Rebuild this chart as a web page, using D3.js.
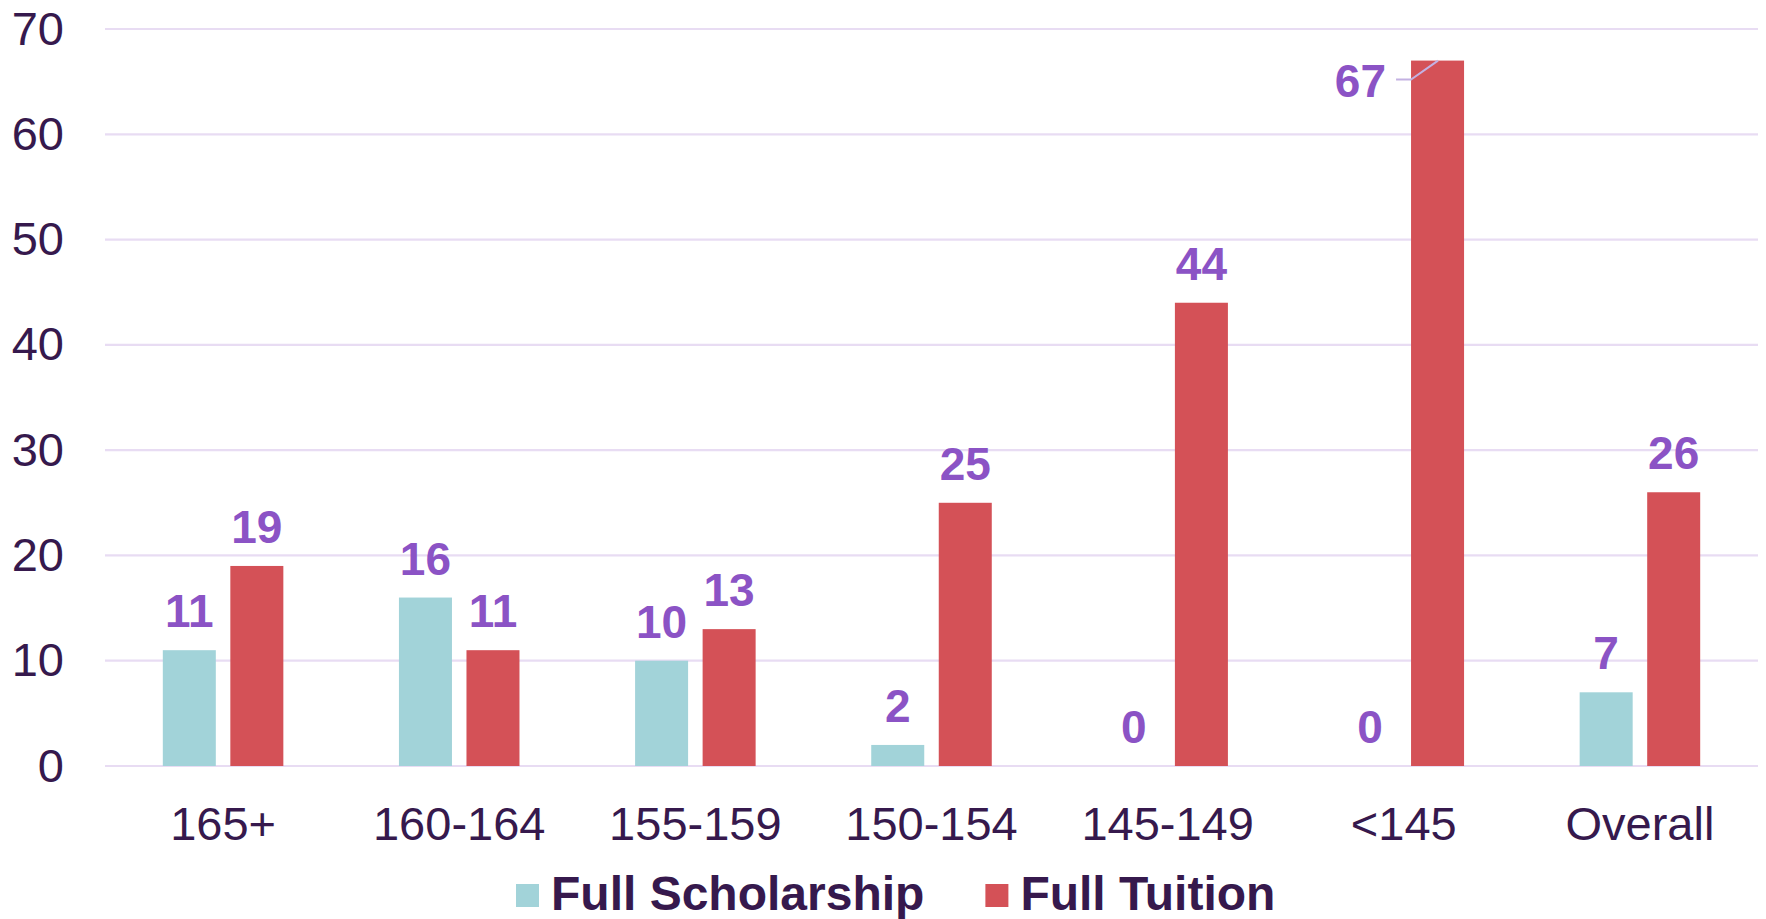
<!DOCTYPE html>
<html>
<head>
<meta charset="utf-8">
<script src="https://cdn.jsdelivr.net/npm/d3@7"></script>
<style>
  html, body { margin: 0; padding: 0; background: #fff; }
  svg { display: block; font-family: "Liberation Sans", Arial, sans-serif; }
</style>
</head>
<body>
<div class="chart"></div>
<script>
// grouped bars: full scholarship vs full tuition by LSAT band

var categories = ["165+", "160-164", "155-159", "150-154", "145-149", "<145", "Overall"];
var seriesNames = ["Full Scholarship", "Full Tuition"];
var scholarship = [11, 16, 10, 2, 0, 0, 7];
var tuition = [19, 11, 13, 25, 44, 67, 26];
var yTicks = [0, 10, 20, 30, 40, 50, 60, 70];

var colors = {"Full Scholarship": "#a2d3d9", "Full Tuition": "#d45157"};
var textColor = "#36194d";
var labelColor = "#8b53c5";
var gridColor = "#e8dcf3";

var svgWidth = 1766, svgHeight = 919;
var plot = {left: 105, right: 1758, top: 29, bottom: 766};

var svg = d3.select(".chart").append("svg").attr("width", svgWidth).attr("height", svgHeight);

// scales
var x0 = d3.scaleBand().domain(categories).range([plot.left, plot.right]).paddingInner(0).paddingOuter(0);
var x1 = d3.scaleBand().domain(seriesNames).range([0, x0.bandwidth()]).paddingInner(0.215).paddingOuter(0.856);
var y = d3.scaleLinear().domain([0, 70]).range([plot.bottom, plot.top]);

// gridlines
svg.append("g").selectAll("line").data(yTicks).enter().append("line")
  .attr("x1", plot.left).attr("x2", plot.right)
  .attr("y1", d => y(d)).attr("y2", d => y(d))
  .attr("stroke", gridColor).attr("stroke-width", 2.2);

// y axis labels
var leftAxis = d3.axisLeft(y).tickValues(yTicks).tickSize(0).tickPadding(0);
var yAxisG = svg.append("g").attr("transform", "translate(64,0)").call(leftAxis);
yAxisG.select(".domain").remove();
yAxisG.selectAll("text").attr("font-size", "47px").attr("fill", textColor)
  .attr("font-family", "'Liberation Sans', Arial, sans-serif").attr("dy", "0.32em");

// x axis labels
var bottomAxis = d3.axisBottom(x0).tickSize(0).tickPadding(0);
var xAxisG = svg.append("g").attr("transform", "translate(0,804)").call(bottomAxis);
xAxisG.select(".domain").remove();
xAxisG.selectAll("text").attr("font-size", "47px").attr("fill", textColor)
  .attr("font-family", "'Liberation Sans', Arial, sans-serif").attr("dy", "0.76em");

// build rows
var rows = categories.map(function(c, i) {
  return {cat: c, values: [{key: "Full Scholarship", v: scholarship[i]}, {key: "Full Tuition", v: tuition[i]}]};
});

var groups = svg.append("g").selectAll("g").data(rows).enter().append("g")
  .attr("transform", d => `translate(${x0(d.cat)},0)`);

groups.selectAll("rect").data(d => d.values).enter().append("rect")
  .attr("x", d => x1(d.key))
  .attr("y", d => y(d.v))
  .attr("width", x1.bandwidth())
  .attr("height", d => y(0) - y(d.v))
  .attr("fill", d => colors[d.key]);

// data labels
var labelGap = 23;
function outside(d) { return y(d.v) - labelGap - 34 < plot.top; }
groups.selectAll("text.val").data(d => d.values).enter().append("text")
  .attr("class", "val")
  .attr("x", d => outside(d) ? x1(d.key) - 25 : x1(d.key) + x1.bandwidth() / 2)
  .attr("y", d => outside(d) ? y(d.v) + 36 : y(d.v) - labelGap)
  .attr("text-anchor", d => outside(d) ? "end" : "middle")
  .attr("font-size", "46px").attr("font-weight", "bold").attr("fill", labelColor)
  .text(d => d.v);

// leader line for labels pushed beside the bar
groups.selectAll("path.leader").data(d => d.values.filter(outside)).enter()
  .append("path").attr("class", "leader")
  .attr("d", function(d) {
    var bx = x1(d.key);
    var ly = y(d.v) + 19;
    return `M${bx - 15},${ly} L${bx},${ly} L${bx + 27},${y(d.v)}`;
  })
  .attr("fill", "none").attr("stroke", "#c3b1e2").attr("stroke-width", 2);

// legend
var legend = svg.append("g");
var lx = 516;
seriesNames.forEach(function(name) {
  legend.append("rect").attr("x", lx).attr("y", 884).attr("width", 23).attr("height", 23).attr("fill", colors[name]);
  var t = legend.append("text").attr("x", lx + 35).attr("y", 910)
    .attr("font-size", "48px").attr("font-weight", "bold").attr("fill", textColor).text(name);
  lx = lx + 35 + t.node().getComputedTextLength() + 61;
});
</script>
</body>
</html>
